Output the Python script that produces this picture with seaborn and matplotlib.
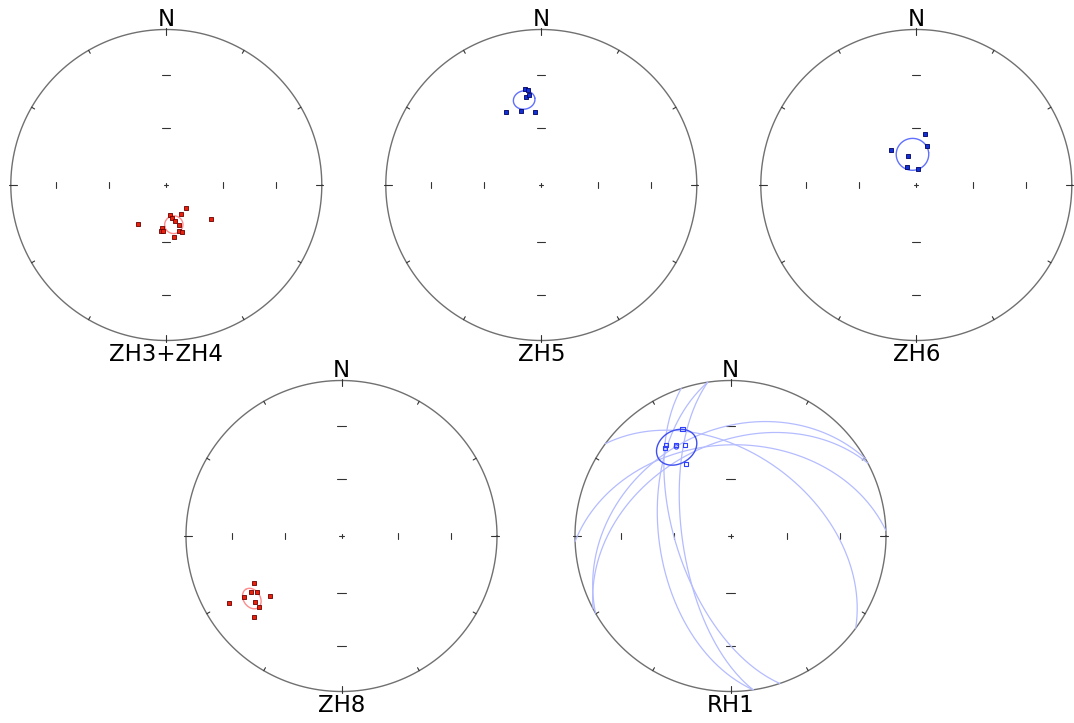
import numpy as np
import pandas as pd
import matplotlib
matplotlib.use("Agg")
import matplotlib.pyplot as plt
import seaborn as sns

sns.set_style("white")
plt.rcParams['font.family'] = ['DejaVu Sans']

# site directions (declination, inclination in degrees)
zh34_dec = [215.8, 140.2, 153.9, 172.7, 169.5, 166.4, 162.9, 185.1, 187.1, 183.5, 165.2, 161.9, 171.0, 127.6]
zh34_inc = [64.7, 74.3, 73.1, 74.3, 72.3, 70.4, 68.2, 67.5, 65.5, 65.6, 64.8, 63.8, 62.5, 60.4]
zh34_mean = [169.3, 68.8, 4.7]   # dec, inc, a95

zh5_dec = [350.1, 352.1, 350.4, 351.9, 334.4, 344.8, 354.9]
zh5_inc = [37.4, 38.5, 42.3, 41.3, 47.0, 49.0, 51.2]
zh5_mean = [348.6, 43.5, 5.2]

zh6_dec = [9.5, 14.6, 324.2, 343.3, 331.8, 5.4]
zh6_inc = [63.0, 68.7, 67.2, 74.0, 79.5, 81.6]
zh6_mean = [352.9, 73.8, 8.4]

zh8_dec = [241.8, 238.2, 236.2, 237.9, 230.0, 239.1, 232.5, 229.4, 227.2]
zh8_inc = [36.1, 31.9, 35.1, 27.1, 39.5, 16.8, 30.6, 30.5, 24.6]
zh8_mean = [235.1, 30.3, 5.0]

# RH1: upper hemisphere (open symbols) + remagnetisation great circles
rh1_dec = [335.8, 324.7, 323.4, 328.9, 333.4, 328.1]
rh1_inc = [-25.6, -29.2, -30.1, -32.4, -35.0, -44.7]
rh1_mean = [328.75, -33.4, 9.8]
rh1_gc_strike = [171.6, 171.6, 161.5, 306.4, 240.2, 242.1, 268.0]
rh1_gc_dip = [64.7, 52.1, 61.4, 46.0, 33.1, 40.7, 41.0]

W, H = 1074, 723
R_PX = 155.5


def proj(dec, inc):
    dec = np.radians(np.asarray(dec, dtype=float))
    inc = np.abs(np.asarray(inc, dtype=float))
    r = np.sqrt(2) * np.sin(np.radians(90 - inc) / 2)
    return r * np.sin(dec), r * np.cos(dec)


def to_vec(dec, inc):
    d, i = np.radians(dec), np.radians(inc)
    return np.array([np.cos(i) * np.sin(d), np.cos(i) * np.cos(d), np.sin(i)])


def small_circle(dec, inc, a95, n=181):
    m = to_vec(dec, inc)
    u = np.cross(m, [0, 0, 1.0])
    if np.linalg.norm(u) < 1e-6:
        u = np.array([1.0, 0, 0])
    u /= np.linalg.norm(u)
    v = np.cross(m, u)
    a = np.radians(a95)
    phi = np.linspace(0, 2 * np.pi, n)
    pts = np.cos(a) * m[:, None] + np.sin(a) * (np.outer(u, np.cos(phi)) + np.outer(v, np.sin(phi)))
    d = np.degrees(np.arctan2(pts[0], pts[1])) % 360
    i = np.degrees(np.arcsin(np.clip(pts[2], -1, 1)))
    return proj(d, i)


def great_circle(strike, dip, n=181):
    t = np.linspace(0, 180, n)
    plunge = np.degrees(np.arctan(np.tan(np.radians(dip)) * np.sin(np.radians(t))))
    return proj(strike + t, plunge)


def make_net(cx, cy, label):
    L = 1.15
    size = 2 * L * R_PX
    ax = fig.add_axes([(cx - size / 2) / W, (H - cy - size / 2) / H, size / W, size / H])
    ax.set_xlim(-L, L)
    ax.set_ylim(-L, L)
    ax.set_aspect('equal')
    ax.axis('off')
    th = np.linspace(0, 2 * np.pi, 400)
    ax.plot(np.cos(th), np.sin(th), color='#707070', lw=1.0, zorder=1)
    tk = dict(color='#333333', lw=0.8, zorder=1)
    for az in range(0, 360, 30):
        a = np.radians(az)
        r0, r1 = (0.962, 1.01) if az % 90 == 0 else (0.978, 1.0)
        ax.plot([r0 * np.sin(a), r1 * np.sin(a)], [r0 * np.cos(a), r1 * np.cos(a)], **tk)
    for inc in (30, 60):
        r = np.sqrt(2) * np.sin(np.radians(90 - inc) / 2)
        for s in (-1, 1):
            ax.plot([s * r, s * r], [-0.021, 0.021], **tk)
            ax.plot([-0.026, 0.026], [s * r, s * r], **tk)
    ax.plot([-0.013, 0.013], [0, 0], **tk)
    ax.plot([0, 0], [-0.013, 0.013], **tk)
    ax.text(0, 1.02, 'N', ha='center', va='baseline', fontsize=16.5, color='black')
    ax.text(0, -1.015, label, ha='center', va='top', fontsize=16.5, color='black')
    return ax


def filled_site(ax, dec, inc, mean, fill, edge, ring):
    x, y = proj(dec, inc)
    df = pd.DataFrame({'x': x, 'y': y})
    sns.scatterplot(data=df, x='x', y='y', ax=ax, marker='s', s=8,
                    color=fill, edgecolor=edge, linewidth=0.6, zorder=3)
    cx_, cy_ = small_circle(*mean)
    ax.plot(cx_, cy_, color=ring, lw=1.0, zorder=2)
    ax.set_xlabel('')
    ax.set_ylabel('')


fig = plt.figure(figsize=(W / 100, H / 100), dpi=100)

RED, RED_E, RED_RING = '#e8200c', '#6a0000', '#ff8c8c'
BLUE, BLUE_E, BLUE_RING = '#1030d8', '#000060', '#6070ff'

ax1 = make_net(166.3, 185, 'ZH3+ZH4')
filled_site(ax1, zh34_dec, zh34_inc, zh34_mean, RED, RED_E, RED_RING)

ax2 = make_net(541.3, 185, 'ZH5')
filled_site(ax2, zh5_dec, zh5_inc, zh5_mean, BLUE, BLUE_E, BLUE_RING)

ax3 = make_net(916.3, 185, 'ZH6')
filled_site(ax3, zh6_dec, zh6_inc, zh6_mean, BLUE, BLUE_E, BLUE_RING)

ax4 = make_net(341.5, 536, 'ZH8')
filled_site(ax4, zh8_dec, zh8_inc, zh8_mean, RED, RED_E, RED_RING)

ax5 = make_net(730.5, 536, 'RH1')
for st, dp in zip(rh1_gc_strike, rh1_gc_dip):
    gx, gy = great_circle(st, dp)
    ax5.plot(gx, gy, color='#b4bcff', lw=0.9, zorder=1)
x5, y5 = proj(rh1_dec, rh1_inc)
ax5.scatter(x5, y5, marker='s', s=10, facecolors='none', edgecolors='#3040ff', linewidths=0.8, zorder=3)
mx, my = proj(rh1_mean[0], rh1_mean[1])
ax5.scatter([mx], [my], marker='o', s=10, facecolors='none', edgecolors='#3040ff', linewidths=0.8, zorder=3)
rx, ry = small_circle(*rh1_mean)
ax5.plot(rx, ry, color='#4050f0', lw=1.0, zorder=2)

fig.savefig('out.png', dpi=100)
